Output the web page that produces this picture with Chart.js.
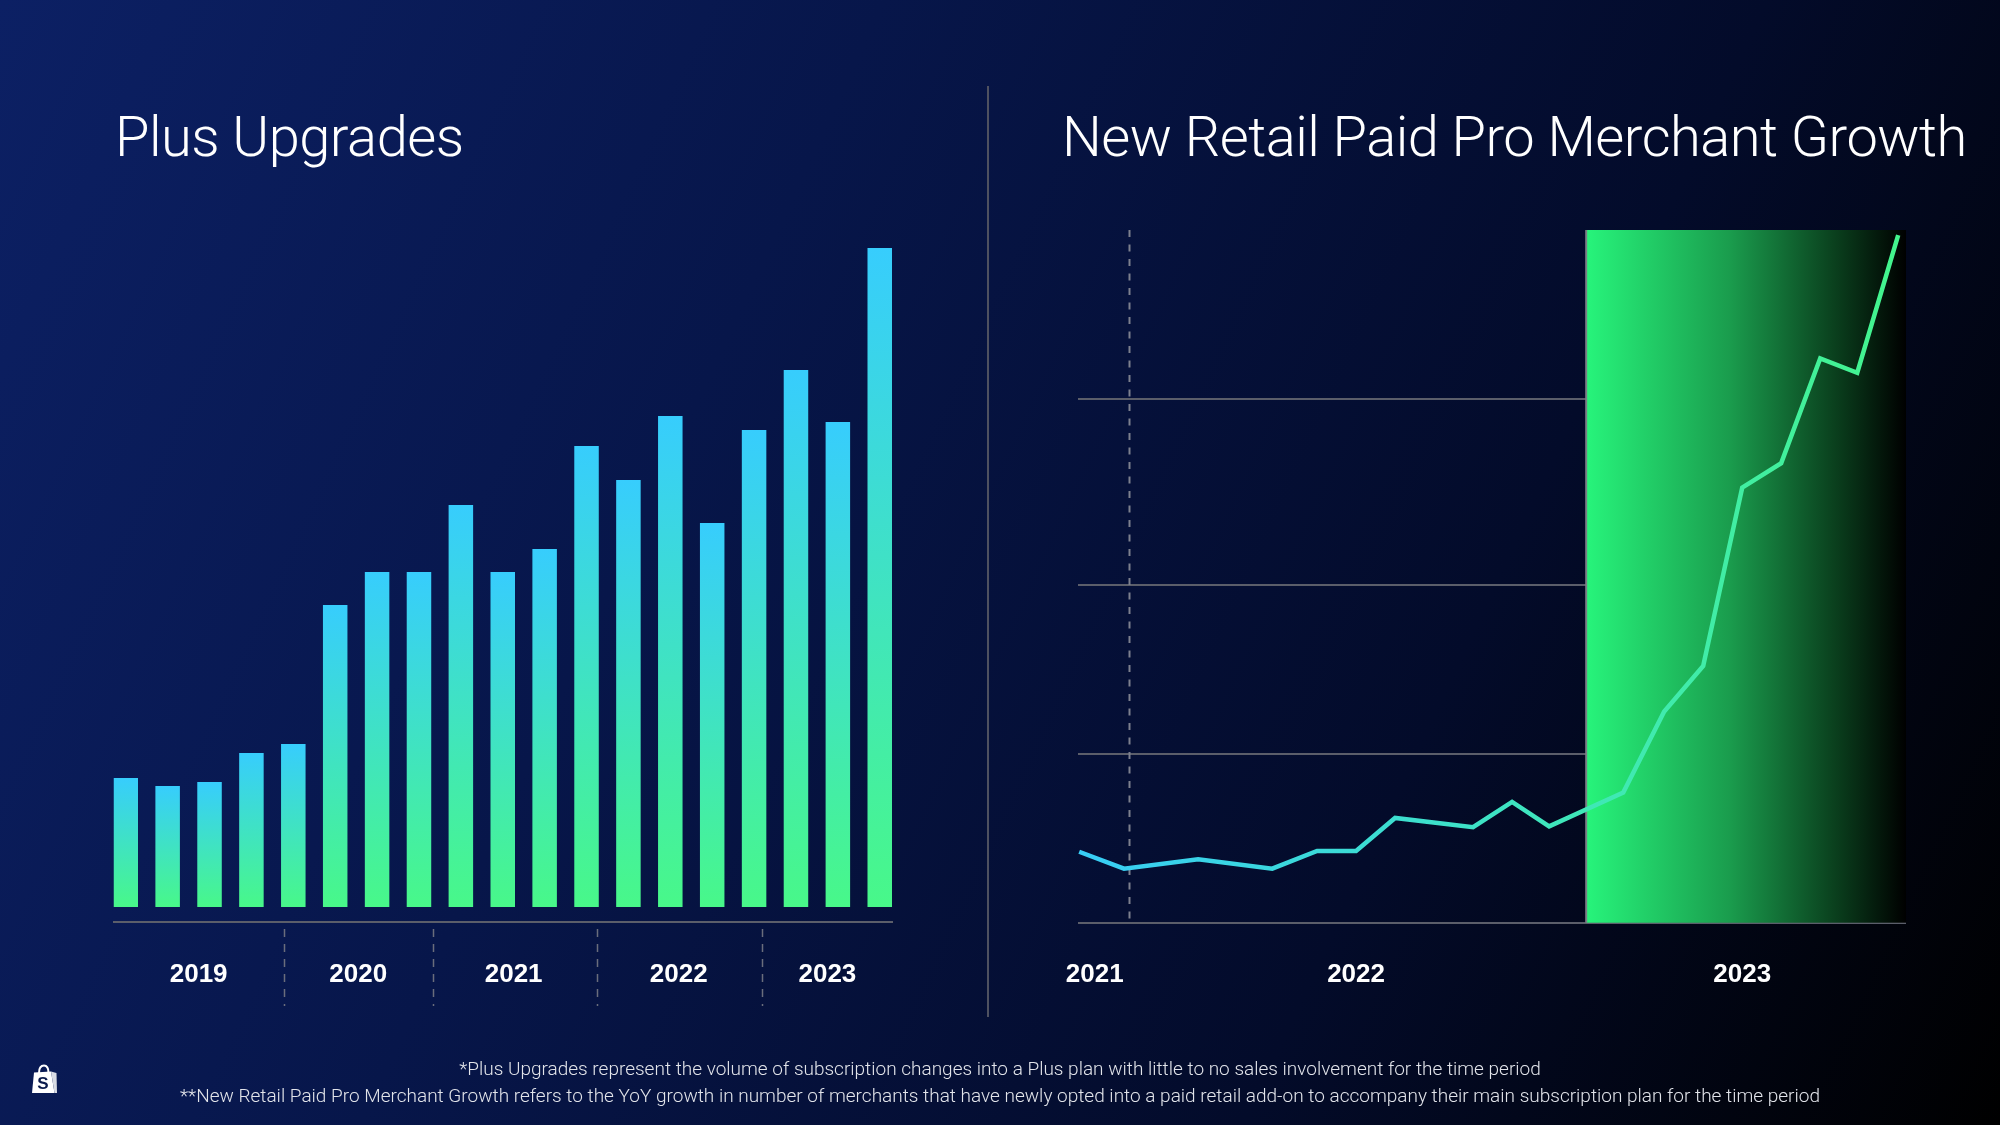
<!DOCTYPE html>
<html>
<head>
<meta charset="utf-8">
<title>Plus Upgrades / New Retail Paid Pro Merchant Growth</title>
<script src="https://cdn.jsdelivr.net/npm/chart.js@4.4.1/dist/chart.umd.min.js"></script>
<style>
  html, body { margin: 0; padding: 0; }
  body {
    width: 2000px; height: 1125px; position: relative; overflow: hidden;
    background: linear-gradient(115deg, #0c2064 0%, #07164a 35%, #030b2a 70%, #000000 100%);
    font-family: Roboto, 'Liberation Sans', sans-serif;
    color: #fff;
  }
  canvas { position: absolute; left: 0; top: 0; }
  .title {
    position: absolute; top: 109px; font-size: 56px; line-height: 56px;
    font-weight: 300; white-space: nowrap; letter-spacing: -0.5px;
  }
  .split { position: absolute; left: 987px; top: 86px; width: 2px; height: 931px; background: #4e5160; }
  .notes {
    position: absolute; left: 0; width: 2000px; top: 1055px; text-align: center;
    font-size: 19px; line-height: 27px; font-weight: 300; color: #e2e4ea;
  }
  .logo { position: absolute; left: 31px; top: 1064px; }
</style>
</head>
<body>
<div class="title" style="left:115px">Plus Upgrades</div>
<div class="title" style="left:1062px">New Retail Paid Pro Merchant Growth</div>
<div class="split"></div>

<canvas id="plusChart" width="2000" height="1125"></canvas>
<canvas id="proChart" width="2000" height="1125"></canvas>

<div class="notes">
  <div>*Plus Upgrades represent the volume of subscription changes into a Plus plan with little to no sales involvement for the time period</div>
  <div>**New Retail Paid Pro Merchant Growth refers to the YoY growth in number of merchants that have newly opted into a paid retail add-on to accompany their main subscription plan for the time period</div>
</div>

<svg class="logo" width="27" height="31" viewBox="0 0 27 31">
  <path d="M8 9 C8 3.5 10.5 1.5 13 1.5 C15.5 1.5 17.5 3.5 17.5 9" stroke="#fff" stroke-width="2" fill="none"/>
  <path d="M3 8.5 L20 7.5 L23.5 29 L1 29 Z" fill="#fff"/>
  <path d="M20 7.5 L25.5 9 L26 29 L23.5 29 Z" fill="#d9dce4"/>
  <text x="12" y="25" text-anchor="middle" font-family="Liberation Sans" font-weight="bold" font-size="17" fill="#0a1a4c">S</text>
</svg>

<script>
// ===== Dados =====
// Plus Upgrades: volume trimestral (unidades relativas)
const quarters     = ['Q1 19','Q2 19','Q3 19','Q4 19','Q1 20','Q2 20','Q3 20','Q4 20',
                      'Q1 21','Q2 21','Q3 21','Q4 21','Q1 22','Q2 22','Q3 22','Q4 22',
                      'Q1 23','Q2 23','Q3 23'];
const plusUpgrades = [129, 121, 125, 154, 163, 302, 335, 335, 402, 335, 358, 461,
                      427, 491, 384, 477, 537, 485, 659];
const barYears     = ['2019', '2020', '2021', '2022', '2023'];
const barYearTicks = [1.74, 5.55, 9.26, 13.2, 16.75];   // posição (índice da barra) dos rótulos
const barDividers  = [3.77, 7.33, 11.26, 15.2];         // separadores tracejados entre anos

// Paid Pro: crescimento YoY (%), x em meses desde o início da série
const proMonths    = [0, 1.15, 3.05, 4.95, 6.1, 7.1, 8.1, 10.1, 11.1, 12.05,
                      13.95, 15, 16, 17, 18, 19, 19.95, 21];
const proGrowth    = [42, 32, 37.5, 32, 42.5, 42.5, 62, 56.5, 71.5, 57,
                      77, 125, 152, 257.5, 272, 334, 325.5, 407];
const proYears     = ['2021', '2022', '2023'];
const proYearTicks = [0.4, 7.1, 17];
const proGridTicks = [0, 100, 200, 310];
const proMarker    = 1.27;   // linha tracejada
const proHighlight = 13;     // início da faixa verde

(() => {
  'use strict';

  const AXIS_GRAY  = '#5b5e6a';
  const YEAR_FONT  = { family: "'Liberation Sans', Arial, sans-serif", size: 26, weight: 'bold', lineHeight: 1.2 };

  // ===== Helpers =====
  function vGradient(ctx, top, bottom, from, to) {
    const g = ctx.createLinearGradient(0, top, 0, bottom);
    g.addColorStop(0, from);
    g.addColorStop(1, to);
    return g;
  }

  // ===== Plus Upgrades (barras) =====
  const yearDividers = {
    id: 'yearDividers',
    afterDraw(chart) {
      const { ctx, scales: { x }, chartArea } = chart;
      ctx.save();
      ctx.strokeStyle = '#6a6d7c';
      ctx.lineWidth = 1.5;
      ctx.setLineDash([8, 7]);
      barDividers.forEach(v => {
        const px = Math.round(x.getPixelForValue(v)) + 0.5;
        ctx.beginPath();
        ctx.moveTo(px, chartArea.bottom + 7);
        ctx.lineTo(px, chartArea.bottom + 84);
        ctx.stroke();
      });
      ctx.restore();
    }
  };

  new Chart(document.getElementById('plusChart'), {
    type: 'bar',
    data: {
      datasets: [{
        label: 'Plus Upgrades',
        data: plusUpgrades.map((v, i) => ({ x: i, y: v })),
        backgroundColor: c => {
          const { chart, parsed } = c;
          if (!chart.chartArea || !parsed) return '#3ad6e6';
          const y = chart.scales.y;
          return vGradient(chart.ctx, y.getPixelForValue(parsed.y), y.getPixelForValue(0), '#37cdfd', '#48f889');
        },
        borderWidth: 0,
        barPercentage: 0.585,
        categoryPercentage: 1
      }]
    },
    options: {
      responsive: false,
      animation: false,
      layout: { padding: { left: 113.5, right: 1108, top: 248, bottom: 143 } },
      plugins: { legend: { display: false }, tooltip: { enabled: false } },
      scales: {
        x: {
          type: 'linear',
          offset: false,
          min: -0.2925, max: 18.2925,
          afterBuildTicks: s => { s.ticks = barYearTicks.map(value => ({ value })); },
          afterFit: s => { s.height = 60; },
          grid: { display: false, drawTicks: false },
          border: { display: true, color: AXIS_GRAY, width: 2 },
          ticks: {
            color: '#ffffff', font: YEAR_FONT, padding: 37, maxRotation: 0, autoSkip: false,
            callback: (v, i) => barYears[i]
          }
        },
        y: { display: false, min: -15, max: 659 }
      }
    },
    plugins: [yearDividers]
  });

  // ===== Retail Paid Pro (linha) =====
  const highlight = {
    id: 'highlight',
    beforeDatasetsDraw(chart) {
      const { ctx, scales: { x }, chartArea: a } = chart;
      const left = x.getPixelForValue(proHighlight);
      ctx.save();
      const g = ctx.createLinearGradient(left, 0, a.right, 0);
      g.addColorStop(0, '#27f47b');
      g.addColorStop(0.45, '#1a9c4d');
      g.addColorStop(0.78, '#0a3f1d');
      g.addColorStop(1, '#000000');
      ctx.fillStyle = g;
      ctx.fillRect(left, a.top, a.right - left, a.bottom - a.top);
      ctx.fillStyle = '#7b7e86';
      ctx.fillRect(left - 1, a.top, 2, a.bottom - a.top);

      // marcador tracejado
      const mx = Math.round(x.getPixelForValue(proMarker)) + 0.5;
      ctx.strokeStyle = '#7d808e';
      ctx.lineWidth = 2;
      ctx.setLineDash([7, 7.5]);
      ctx.beginPath();
      ctx.moveTo(mx, a.top);
      ctx.lineTo(mx, a.bottom);
      ctx.stroke();
      ctx.restore();
    }
  };

  new Chart(document.getElementById('proChart'), {
    type: 'line',
    data: {
      datasets: [{
        label: 'New Retail Paid Pro Merchant Growth',
        data: proMonths.map((m, i) => ({ x: m, y: proGrowth[i] })),
        borderColor: c => {
          const { chart } = c;
          const a = chart.chartArea;
          if (!a) return '#3ee0c0';
          const g = chart.ctx.createLinearGradient(a.left, 0, a.right, 0);
          g.addColorStop(0, '#38cdf6');
          g.addColorStop(0.5, '#3ee3c4');
          g.addColorStop(1, '#43f58c');
          return g;
        },
        borderWidth: 4.5,
        pointRadius: 0,
        tension: 0,
        fill: false
      }]
    },
    options: {
      responsive: false,
      animation: false,
      layout: { padding: { left: 1078, right: 94, top: 230, bottom: 142.3 } },
      plugins: { legend: { display: false }, tooltip: { enabled: false } },
      scales: {
        x: {
          type: 'linear',
          min: -0.03, max: 21.2,
          afterBuildTicks: s => { s.ticks = proYearTicks.map(value => ({ value })); },
          afterFit: s => { s.height = 60; },
          grid: { display: false, drawTicks: false },
          border: { display: false },
          ticks: {
            color: '#ffffff', font: YEAR_FONT, padding: 37, maxRotation: 0, autoSkip: false,
            callback: (v, i) => proYears[i]
          }
        },
        y: {
          min: 0, max: 410,
          afterBuildTicks: s => { s.ticks = proGridTicks.map(value => ({ value })); },
          afterFit: s => { s.width = 0; },
          grid: { color: AXIS_GRAY, lineWidth: 2, drawTicks: false },
          border: { display: false },
          ticks: { display: false }
        }
      }
    },
    plugins: [highlight]
  });
})();
</script>
</body>
</html>
